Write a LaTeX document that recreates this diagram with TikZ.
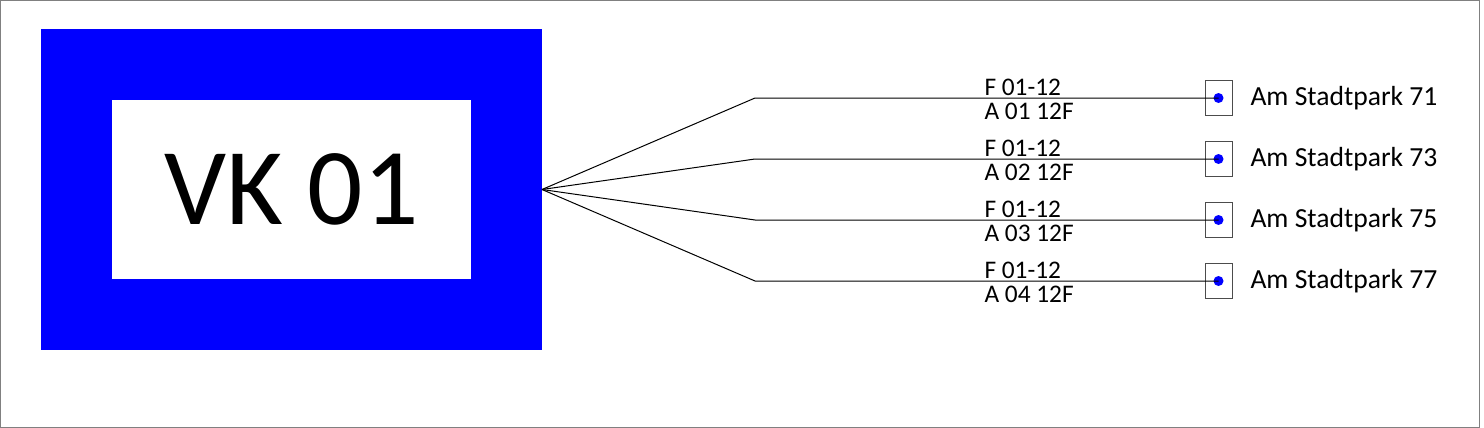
\documentclass[tikz,border=0pt]{standalone}
\usepackage{fontspec}
\setmainfont{Carlito}
\usetikzlibrary{positioning}
\usetikzlibrary{calc}

\tikzset{
  vkbox/.style={draw=blue, line width=53.25pt, fill=white, minimum width=322.5pt,
    minimum height=187.5pt, inner sep=0pt, font=\fontsize{82}{90}\selectfont},
  endbox/.style={draw=black!70, line width=0.75pt, minimum width=20.25pt,
    minimum height=26.25pt, inner sep=0pt},
  enddot/.style={circle, fill=blue, minimum size=7.5pt, inner sep=0pt},
  cablelabel/.style={anchor=base west, inner sep=0pt, font=\fontsize{19}{22}\selectfont},
  addrlabel/.style={anchor=base west, inner sep=0pt, font=\fontsize{20.7}{24}\selectfont}
}

\begin{document}
\begin{tikzpicture}[x=0.75pt, y=-0.75pt, line width=0.75pt]
		\useasboundingbox (0,0) rectangle (1484,428);
		\draw[gray] (0.5,0.5) rectangle (1479,427);

		 % Define the distributor
		\node[vkbox] (vk) at (291.5,189.5) {VK 01};

		 % Define the end points
		\foreach \point/\y/\house in {1/98/71, 2/159/73, 3/220/75, 4/281/77}
		{
		\coordinate (k\point) at (755,\y);
		\node[endbox] (box\point) at (1218.5,\y) {};
		\node[enddot] (dot\point) at (box\point.center) {};
		\node[addrlabel] (addr\point) at (1250,\y+7) {Am Stadtpark \house};
		}

		 % Draw the lines
		\foreach \point in {1,2,3,4}
		{
		\draw (vk.east) -- (k\point) -- (dot\point.center);
		\node[cablelabel] (f\point) at ($(k\point)+(229,-3)$) {F 01-12};
		\node[cablelabel] (a\point) at ($(k\point)+(229,21)$) {A 0\point{} 12F};
		}
      \end{tikzpicture}
\end{document}
